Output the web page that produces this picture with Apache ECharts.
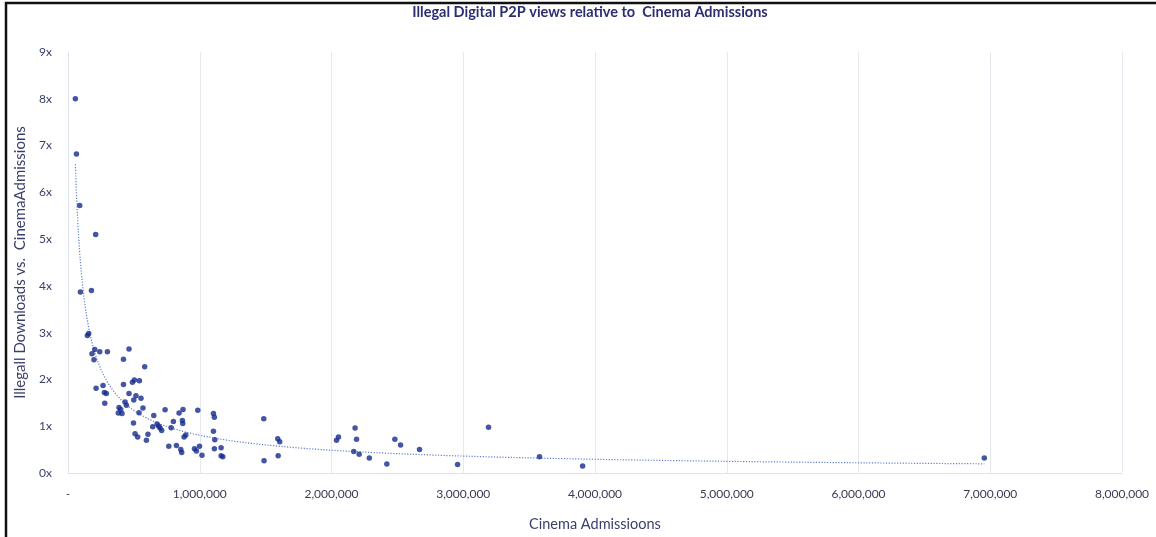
<!DOCTYPE html>
<html>
<head>
<meta charset="utf-8">
<script src="https://cdn.jsdelivr.net/npm/echarts@6/dist/echarts.min.js"></script>
<style>
html,body{margin:0;padding:0;background:#fff;}
#c{width:1156px;height:537px;}
</style>
</head>
<body>
<div id="c"></div>
<script>
// Cinema admissions (x)
var admissions = [
  56000, 64000, 89000, 210000, 94000, 178000, 147000, 157000, 203000, 241000,
  299000, 463000, 182000, 421000, 197000, 582000, 213000, 266000, 276000, 291000,
  279000, 421000, 489000, 504000, 542000, 463000, 516000, 554000, 499000, 433000,
  387000, 400000, 410000, 382000, 443000, 569000, 539000, 497000, 509000, 529000,
  595000, 607000, 651000, 643000, 676000, 689000, 699000, 711000, 737000, 765000,
  783000, 800000, 823000, 843000, 873000, 868000, 871000, 856000, 863000, 881000,
  894000, 960000, 975000, 998000, 1017000, 985000, 1104000, 1111000, 1104000, 1114000,
  1111000, 1162000, 1162000, 1175000, 1486000, 1488000, 1592000, 1607000, 1595000, 2038000,
  2053000, 2179000, 2190000, 2169000, 2210000, 2287000, 2420000, 2481000, 2524000, 2668000,
  2957000, 3192000, 3579000, 3906000, 6955000
];
// Illegal downloads vs cinema admissions ratio (y)
var ratio = [
  8.00, 6.82, 5.72, 5.10, 3.87, 3.90, 2.94, 2.98, 2.64, 2.59,
  2.59, 2.65, 2.55, 2.43, 2.42, 2.27, 1.81, 1.87, 1.72, 1.70,
  1.49, 1.89, 1.94, 1.99, 1.97, 1.70, 1.65, 1.60, 1.56, 1.52,
  1.40, 1.36, 1.27, 1.28, 1.45, 1.39, 1.29, 1.07, 0.84, 0.77,
  0.70, 0.83, 1.23, 0.99, 1.05, 1.00, 0.96, 0.91, 1.35, 0.57,
  0.97, 1.10, 0.59, 1.28, 1.36, 1.12, 1.06, 0.50, 0.44, 0.77,
  0.81, 0.52, 0.47, 0.57, 0.38, 1.34, 1.27, 1.19, 0.89, 0.71,
  0.52, 0.54, 0.37, 0.35, 1.16, 0.26, 0.73, 0.67, 0.37, 0.70,
  0.77, 0.96, 0.72, 0.46, 0.40, 0.32, 0.19, 0.72, 0.60, 0.50,
  0.18, 0.98, 0.35, 0.15, 0.32
];
var yTicks = ['0x','1x','2x','3x','4x','5x','6x','7x','8x','9x'];
var xTicks = ['-','1,000,000','2,000,000','3,000,000','4,000,000','5,000,000','6,000,000','7,000,000','8,000,000'];

var points = admissions.map(function(x, i){ return [x, ratio[i]]; });

// Power trendline (least squares on ln-ln), as the spreadsheet does
var n = points.length, sx = 0, sy = 0, sxx = 0, sxy = 0;
points.forEach(function(p){
  var lx = Math.log(p[0]), ly = Math.log(p[1]);
  sx += lx; sy += ly; sxx += lx*lx; sxy += lx*ly;
});
var b = (n*sxy - sx*sy) / (n*sxx - sx*sx);
var a = Math.exp((sy - b*sx) / n);
var xmin = Math.min.apply(null, admissions), xmax = Math.max.apply(null, admissions);
var trend = [];
var steps = 300;
for (var k = 0; k <= steps; k++) {
  var xv = Math.exp(Math.log(xmin) + (Math.log(xmax) - Math.log(xmin)) * k / steps);
  trend.push([xv, a * Math.pow(xv, b)]);
}

var chart = echarts.init(document.getElementById('c'), null, {renderer:'canvas'});
var font = 'Lato, "Open Sans", sans-serif';
chart.setOption({
  backgroundColor: '#ffffff',
  animation: false,
  title: {
    text: 'Illegal Digital P2P views relative to  Cinema Admissions',
    left: 585, top: 0, textAlign: 'center',
    textStyle: {fontFamily: font, fontSize: 14.5, fontWeight: 'bold', color: '#2b2f72'}
  },
  graphic: [{
    type: 'rect', silent: true, z: 100,
    shape: {x: 6, y: 3, width: 1160, height: 560},
    style: {fill: 'none', stroke: '#111111', lineWidth: 2.5}
  }],
  grid: {left: 68, right: 34, top: 52, bottom: 63},
  xAxis: {
    type: 'value', min: 0, max: 8000000, interval: 1000000,
    name: 'Cinema Admissioons', nameLocation: 'middle', nameGap: 44,
    nameTextStyle: {fontFamily: font, fontSize: 14.5, color: '#3a3f6a'},
    axisLine: {show: true, lineStyle: {color: '#dfe2ea', width: 1}},
    axisTick: {show: false},
    splitLine: {show: true, lineStyle: {color: '#e6e8ef', width: 1}},
    axisLabel: {
      fontFamily: font, fontSize: 12, color: '#3a3a55', margin: 15,
      formatter: function(v){ return xTicks[Math.round(v/1000000)]; }
    }
  },
  yAxis: {
    type: 'value', min: 0, max: 9, interval: 1,
    name: 'Illegall Downloads vs.  CinemaAdmissions', nameLocation: 'middle', nameGap: 40,
    nameTextStyle: {fontFamily: font, fontSize: 15, color: '#3a3f6a'},
    axisLine: {show: true, lineStyle: {color: '#dde2f0', width: 1}},
    axisTick: {show: false},
    splitLine: {show: false},
    axisLabel: {
      fontFamily: font, fontSize: 12, color: '#3a3f6a', margin: 16,
      formatter: function(v){ return yTicks[Math.round(v)]; }
    }
  },
  series: [{
    type: 'line', data: trend, showSymbol: false, symbol: 'none', silent: true, z: 1,
    lineStyle: {color: '#5d7fd0', width: 1.2, type: [1.2, 1.6]}
  }, {
    type: 'scatter', data: points, symbol: 'circle', symbolSize: 5.5, z: 2,
    itemStyle: {color: '#142a8c'}
  }]
});
</script>
</body>
</html>
